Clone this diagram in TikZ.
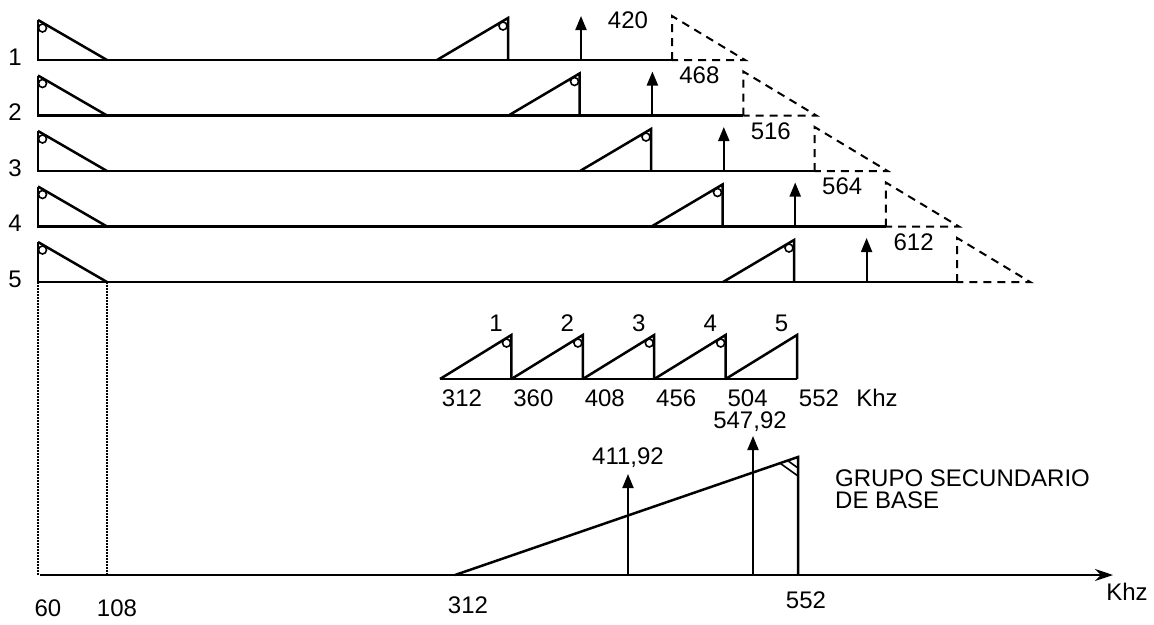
\documentclass[tikz,border=0pt]{standalone}
\usepackage{fontspec}
\setmainfont{Liberation Sans}
\usetikzlibrary{arrows.meta, calc}

\begin{document}
\begin{tikzpicture}[x=1pt, y=-1pt,
  band/.style={line width=2.5pt, line join=miter},
  mirror/.style={line width=2pt, dash pattern=on 8pt off 6pt},
  carrier/.style={-{Triangle[length=14pt, width=11pt]}, line width=2pt},
  guide/.style={line width=2pt, dash pattern=on 1.5pt off 1.5pt},
  loopmark/.style={line width=1.6pt},
  lbl/.style={font=\fontsize{24}{24}\selectfont, inner sep=0pt}]
  \useasboundingbox (0,0) rectangle (1154,624);
  % one row per channel group
  \foreach \k in {1,...,5} {
    \pgfmathsetmacro{\yb}{60+55.5*(\k-1)}
    \pgfmathsetmacro{\xs}{437+71.5*(\k-1)}
    \pgfmathsetmacro{\xa}{581+71.4*(\k-1)}
    \pgfmathsetmacro{\xe}{672+71.3*(\k-1)}
    \pgfmathtruncatemacro{\fc}{420+48*(\k-1)}
    \node[lbl] (row\k) at (15,\yb-3) {\k};
    \coordinate (o\k) at (38,\yb);
    \coordinate (h\k) at (107,\yb);
    \coordinate (e\k) at (\xe,\yb);
    \draw[band] (38,\yb-40) -- (h\k);
    \draw[band] (38,\yb-40) -- (o\k) -- (e\k);
    \draw[loopmark] (42.5,\yb-32) circle (4pt);
    \draw[band] (\xs,\yb) -- (\xs+71,\yb-42) -- (\xs+71,\yb);
    \draw[loopmark] (\xs+66,\yb-34) circle (4pt);
    \coordinate (f\k) at (\xa,\yb);
    \coordinate (t\k) at (\xa,\yb-44);
    \draw[carrier] (f\k) -- (t\k);
    \node[lbl] (fc\k) at (\xa+47,\yb-40) {\fc};
    \draw[mirror] (e\k) -- (\xe,\yb-44) -- (\xe+73,\yb) -- cycle;
  }
  % translated groups side by side
  \foreach \i in {1,...,5} {
    \pgfmathsetmacro{\xs}{440+71.4*(\i-1)}
    \draw[band] (\xs,379) -- (\xs+71.4,335) -- (\xs+71.4,379);
    \ifnum\i<5 \draw[loopmark] (\xs+66.5,343) circle (4pt); \fi
    \node[lbl] (grp\i) at (\xs+56,323) {\i};
  }
  \draw[band] (440,379) -- (797,379);
  \foreach \f [count=\i from 0] in {312,360,408,456,504,552}
    \node[lbl] (mf\f) at (462+71.4*\i,398) {\f};
  \node[lbl] (mkhz) at (877,398) {Khz};
  % frequency axis
  \coordinate (ax0) at (40,575);
  \coordinate (ax1) at (1113,575);
  \draw[band, -{Stealth[length=18pt, width=12pt]}] (ax0) -- (ax1);
  \node[lbl] (khz) at (1127,592) {Khz};
  \draw[guide] (o5) -- (o5 |- ax0);
  \draw[guide] (h5) -- (h5 |- ax0);
  \node[lbl] (a60) at (48,608) {60};
  \node[lbl] (a108) at (117,608) {108};
  \node[lbl] (a312) at (468,605) {312};
  \node[lbl] (a552) at (806,600) {552};
  % secondary group
  \coordinate (gl) at (455,575);
  \coordinate (gt) at (798,457);
  \coordinate (gb) at (798,575);
  \draw[band] (gl) -- (gt) -- (gb);
  \draw[loopmark] ($(gt)!11pt!(gl)$) -- ($(gt)!11pt!(gb)$);
  \draw[loopmark] ($(gt)!19pt!(gl)$) -- ($(gt)!19pt!(gb)$);
  \coordinate (p1) at (628,575);
  \coordinate (q1) at (628,474);
  \coordinate (p2) at (753,575);
  \coordinate (q2) at (753,436);
  \draw[carrier] (p1) -- (q1);
  \draw[carrier] (p2) -- (q2);
  \node[lbl] (v1) at (628,458) {411,92};
  \node[lbl] (v2) at (750,422) {547,92};
  \node[lbl, anchor=north west, align=left, font=\fontsize{24}{22}\selectfont]
    (title) at (835,470) {GRUPO SECUNDARIO\\DE BASE};
\end{tikzpicture}
\end{document}
